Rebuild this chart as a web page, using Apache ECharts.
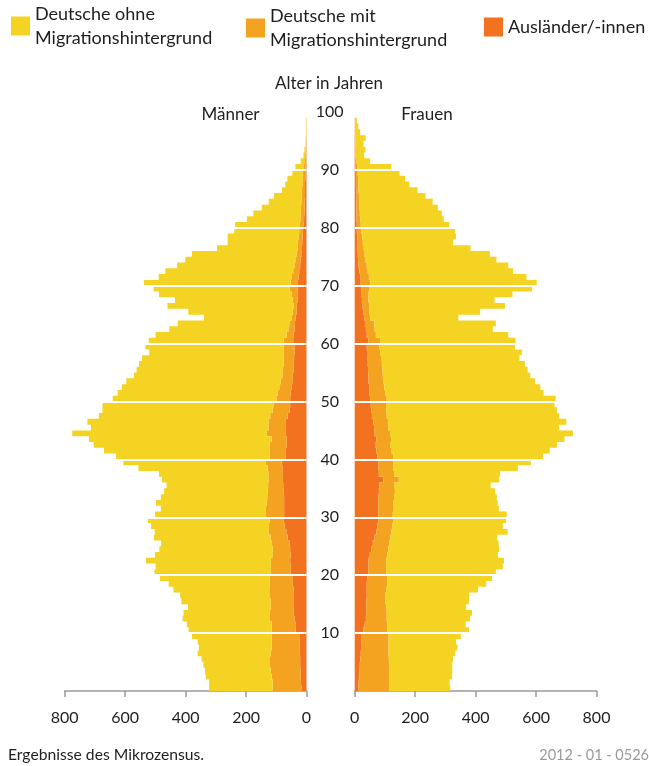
<!DOCTYPE html>
<html>
<head>
<meta charset="utf-8">
<script src="https://cdn.jsdelivr.net/npm/echarts@6/dist/echarts.min.js"></script>
<style>
html,body{margin:0;padding:0;background:#fff;}
#chart{width:649px;height:766px;}
</style>
</head>
<body>
<div id="chart"></div>
<script>
// Age categories 0..99
const ages = [];
for (let i = 0; i < 100; i++) ages.push(String(i));

// Axis tick labels (thousands)
const xTicks = [0, 200, 400, 600, 800];
const ageTicks = [10, 20, 30, 40, 50, 60, 70, 80, 90, 100];

const seriesNames = ['Deutsche ohne Migrationshintergrund', 'Deutsche mit Migrationshintergrund', 'Ausländer/-innen'];

// Männer (in 1000), index = age 0..99
const menOhne = [210,210,218,218,218,224,242,240,245,264,275,281,288,285,274,296,295,317,334,363,385,381,413,388,375,367,387,376,390,403,367,348,366,352,342,336,352,362,428,472,508,548,582,605,644,587,599,567,563,566,541,530,521,511,491,484,478,469,445,457,446,433,394,369,289,346,417,390,438,450,486,441,423,388,364,346,266,233,235,215,214,177,157,130,108,92,66,56,51,35,29,14,6,4,1,2,1,1,1,0];
const menMit = [95,94,96,98,102,102,96,93,92,91,79,78,82,80,76,76,80,80,77,75,66,66,64,61,58,58,56,59,52,46,60,60,58,56,54,50,48,48,48,52,52,52,56,50,61,58,58,58,56,55,46,43,40,38,35,35,34,34,35,36,32,23,20,19,15,12,11,15,22,26,24,22,20,19,18,17,15,14,13,12,12,12,12,12,11,11,10,9,8,8,6,4,3,2,1,1,1,1,1,0];
const menAusl = [17,18,19,20,21,21,22,23,23,24,36,37,40,42,42,42,43,43,45,47,52,52,54,52,54,56,62,67,72,76,74,74,74,74,75,77,78,78,80,82,70,70,66,65,70,68,68,62,56,54,54,52,50,47,45,43,42,41,40,40,44,43,40,38,35,33,32,30,28,30,28,26,24,21,19,16,15,14,13,12,10,8,7,6,6,5,5,5,4,4,2,1,1,1,1,0,0,0,0,0];

// Frauen (in 1000), index = age 0..99
const womenOhne = [202,200,207,208,209,212,221,228,224,239,270,259,276,282,265,277,278,304,327,346,363,386,390,366,367,362,354,384,365,373,377,350,345,340,332,320,332,351,412,455,495,523,552,572,605,564,590,570,564,557,559,523,516,502,488,480,473,458,469,448,448,438,391,402,292,366,449,417,476,538,551,521,481,468,433,414,353,299,310,310,293,277,271,259,243,220,195,169,156,138,113,47,28,32,27,34,17,11,6,0];
const womenMit = [102,101,100,99,97,94,92,91,90,89,79,75,69,68,66,62,61,64,68,67,59,59,58,58,56,54,52,50,50,50,48,49,50,51,53,48,51,50,50,50,53,51,50,51,51,48,48,49,50,51,55,53,50,49,48,48,47,45,43,42,39,30,29,31,20,21,22,22,23,27,31,29,28,27,25,23,21,19,17,15,13,12,11,10,10,9,8,8,7,6,5,3,2,2,1,1,1,1,1,0];
const womenAusl = [12,13,15,16,17,19,20,21,22,23,29,33,37,38,38,39,40,40,40,41,45,45,46,50,55,60,66,72,75,78,78,78,78,79,80,82,95,80,78,78,75,71,67,71,66,64,62,57,55,53,51,49,48,46,45,44,43,42,41,40,45,40,37,34,31,28,26,24,23,22,20,18,15,13,11,10,9,8,8,7,7,6,6,6,5,5,5,4,4,4,3,1,1,1,1,1,0,0,0,0];

const COL_OHNE = '#F5D323';
const COL_MIT = '#F4A321';
const COL_AUSL = '#F37220';
const FONT = 'Lato, "Noto Sans", sans-serif';
const TXT = '#1e1e1e';

const chart = echarts.init(document.getElementById('chart'), null, {renderer: 'canvas'});

function barSeries(name, data, stack, gi, color) {
  return {
    name: name, type: 'bar', stack: stack,
    xAxisIndex: gi, yAxisIndex: gi,
    data: data,
    large: true, largeThreshold: 10,
    barCategoryGap: '0%',
    itemStyle: {color: color},
    emphasis: {disabled: true},
    animation: false
  };
}

function xAxisDef(gi, inverse) {
  return {
    gridIndex: gi, type: 'value', min: xTicks[0], max: xTicks[xTicks.length - 1], interval: 200,
    inverse: inverse, position: 'bottom', offset: 3,
    axisLine: {show: true, lineStyle: {color: '#9a9a9a', width: 1.5}},
    axisTick: {show: true, length: 6, lineStyle: {color: '#9a9a9a', width: 1.5}},
    axisLabel: {color: TXT, fontSize: 16, fontFamily: FONT, margin: 16},
    splitLine: {show: false}
  };
}

const legendBase = {
  orient: 'horizontal', icon: 'rect', itemWidth: 19, itemHeight: 19,
  selectedMode: false, padding: 0,
  textStyle: {fontSize: 18, lineHeight: 24, color: TXT, fontFamily: FONT},
  formatter: function (n) {
    if (n === seriesNames[0]) return 'Deutsche ohne\nMigrationshintergrund';
    if (n === seriesNames[1]) return 'Deutsche mit\nMigrationshintergrund';
    return n;
  }
};

const option = {
  backgroundColor: '#ffffff',
  animation: false,
  legend: [
    Object.assign({}, legendBase, {left: 11, top: 2, data: [seriesNames[0]]}),
    Object.assign({}, legendBase, {left: 246, top: 4, data: [seriesNames[1]]}),
    Object.assign({}, legendBase, {left: 484, top: 15, data: [seriesNames[2]]})
  ],
  grid: [
    {left: 64.7, top: 112, width: 241.8, height: 579},
    {left: 354.7, top: 112, width: 241.8, height: 579}
  ],
  xAxis: [xAxisDef(0, true), xAxisDef(1, false)],
  yAxis: [
    {gridIndex: 0, type: 'category', data: ages, show: false},
    {gridIndex: 1, type: 'category', data: ages, show: false},
    {
      gridIndex: 1, type: 'value', min: 0, max: 100, interval: 10, position: 'left', z: 10,
      axisLine: {show: false}, axisTick: {show: false},
      axisLabel: {color: TXT, fontSize: 16, fontFamily: FONT, align: 'center', margin: 25, showMinLabel: false},
      splitLine: {show: true, showMinLine: false, showMaxLine: false, lineStyle: {color: '#ffffff', width: 2}}
    },
    {
      gridIndex: 0, type: 'value', min: 0, max: 100, interval: 10, position: 'right', z: 10,
      axisLine: {show: false}, axisTick: {show: false}, axisLabel: {show: false},
      splitLine: {show: true, showMinLine: false, showMaxLine: false, lineStyle: {color: '#ffffff', width: 2}}
    }
  ],
  series: [
    barSeries(seriesNames[2], menAusl, 'm', 0, COL_AUSL),
    barSeries(seriesNames[1], menMit, 'm', 0, COL_MIT),
    barSeries(seriesNames[0], menOhne, 'm', 0, COL_OHNE),
    barSeries(seriesNames[2], womenAusl, 'w', 1, COL_AUSL),
    barSeries(seriesNames[1], womenMit, 'w', 1, COL_MIT),
    barSeries(seriesNames[0], womenOhne, 'w', 1, COL_OHNE)
  ],
  graphic: [
    {type: 'text', x: 329, y: 84, style: {text: 'Alter in Jahren', fontSize: 17, fontFamily: FONT, fill: TXT, align: 'center', verticalAlign: 'middle'}},
    {type: 'text', x: 230.5, y: 115, style: {text: 'Männer', fontSize: 17, fontFamily: FONT, fill: TXT, align: 'center', verticalAlign: 'middle'}},
    {type: 'text', x: 427, y: 115, style: {text: 'Frauen', fontSize: 17, fontFamily: FONT, fill: TXT, align: 'center', verticalAlign: 'middle'}},
    {type: 'text', x: 8, y: 755, style: {text: 'Ergebnisse des Mikrozensus.', fontSize: 15.7, fontFamily: FONT, fill: TXT, align: 'left', verticalAlign: 'middle'}},
    {type: 'text', x: 649, y: 755, style: {text: '2012 - 01 - 0526', fontSize: 14.5, fontFamily: FONT, fill: '#9a9a9a', align: 'right', verticalAlign: 'middle'}}
  ]
};
chart.setOption(option);
</script>
</body>
</html>
